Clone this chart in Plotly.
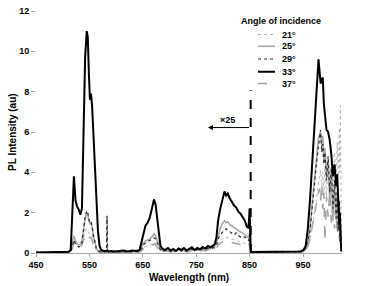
import plotly.graph_objects as go

# ---------------- data ----------------
wavelength_nm = [
    450, 460, 470, 480, 490, 500, 506, 511, 515,
    518, 521, 524, 527, 530, 533, 536, 539, 542, 545, 547, 549, 551, 553, 555, 557, 560, 563, 566, 569, 572,
    576, 580, 582, 583, 584, 586, 590, 598, 606, 614, 622, 630, 638, 644,
    648, 651, 655, 659, 663, 667, 671, 674, 677, 680, 683, 687,
    692, 697, 702, 707, 712, 717, 722, 727, 732, 737, 742, 747, 752, 757, 762, 767, 772, 777, 782, 785,
    788, 791, 795, 799, 803, 806, 809, 813, 817, 821, 825, 829, 833, 837, 841, 845, 848, 850, 852, 854,
    860, 870, 880, 890, 900, 910, 920, 930, 940, 946, 951, 955,
    959, 963, 967, 971, 975, 979, 981, 983, 985, 987, 989, 991, 994, 997, 1000, 1003, 1006, 1009, 1012, 1014,
    1016, 1018, 1019, 1020, 1021, 1022,
]

pl_21deg = [
    0.02, 0.02, 0.03, 0.02, 0.02, 0.03, 0.03, 0.04, 0.06,
    0.3, 0.6, 0.45, 0.3, 0.3, 0.35, 0.45, 0.8, 1.05, 1.2, 1.1, 0.95, 0.9, 0.92, 0.8, 0.55, 0.3, 0.15, 0.08, 0.05, 0.04,
    0.04, 0.05, 0.04, 0.05, 0.04, 0.05, 0.04, 0.06, 0.04, 0.06, 0.05, 0.06, 0.05, 0.06,
    0.15, 0.28, 0.33, 0.36, 0.38, 0.44, 0.5, 0.46, 0.33, 0.2, 0.1, 0.06,
    0.08, 0.12, 0.06, 0.1, 0.07, 0.12, 0.08, 0.14, 0.06, 0.1, 0.15, 0.08, 0.14, 0.1, 0.16, 0.12, 0.18, 0.15, 0.2, 0.22,
    0.3, 0.5, 0.62, 0.72, 0.8, 0.78, 0.75, 0.72, 0.68, 0.64, 0.62, 0.58, 0.55, 0.52, 0.5, 0.45, 0.42, 0.6, 0.05, 0.02,
    0.02, 0.03, 0.02, 0.03, 0.02, 0.03, 0.02, 0.03, 0.03, 0.04, 0.06, 0.12,
    0.3, 0.6, 1.2, 2.0, 2.8, 3.4, 3.8, 4.1, 3.2, 4.0, 3.0, 4.3, 2.8, 4.5, 3.2, 4.6, 3.0, 5.0, 3.6, 5.5,
    3.8, 6.2, 4.0, 7.3, 1.5, 0.0,
]

pl_25deg = [
    0.02, 0.02, 0.03, 0.02, 0.03, 0.03, 0.04, 0.05, 0.08,
    0.5, 0.85, 0.6, 0.45, 0.4, 0.45, 0.6, 1.2, 1.7, 2.0, 1.9, 1.6, 1.45, 1.5, 1.3, 0.9, 0.5, 0.25, 0.12, 0.08, 0.06,
    0.05, 0.06, 0.05, 0.06, 0.05, 0.06, 0.05, 0.07, 0.05, 0.08, 0.06, 0.07, 0.06, 0.08,
    0.3, 0.5, 0.6, 0.65, 0.7, 0.8, 0.95, 0.85, 0.6, 0.35, 0.18, 0.1,
    0.12, 0.18, 0.1, 0.15, 0.08, 0.17, 0.12, 0.2, 0.1, 0.15, 0.22, 0.12, 0.2, 0.15, 0.25, 0.18, 0.28, 0.22, 0.3, 0.35,
    0.55, 0.9, 1.2, 1.45, 1.6, 1.5, 1.55, 1.4, 1.35, 1.25, 1.2, 1.1, 1.05, 1.0, 0.9, 0.8, 0.75, 1.0, 0.08, 0.04,
    0.04, 0.03, 0.05, 0.04, 0.03, 0.04, 0.05, 0.04, 0.05, 0.06, 0.08, 0.2,
    0.5, 1.2, 2.4, 3.6, 4.8, 5.7, 5.9, 6.0, 5.3, 5.8, 4.6, 5.2, 3.8, 4.6, 2.6, 4.0, 1.6, 3.4, 1.8, 3.0,
    1.2, 2.5, 0.8, 1.5, 0.3, 0.05,
]

pl_29deg = [
    0.03, 0.02, 0.04, 0.03, 0.02, 0.04, 0.03, 0.05, 0.07,
    0.35, 0.65, 0.45, 0.35, 0.3, 0.35, 0.5, 1.1, 1.8, 2.1, 2.0, 1.7, 1.5, 1.55, 1.35, 0.95, 0.5, 0.22, 0.1, 0.06, 0.05,
    0.05, 0.06, 0.08, 1.85, 0.1, 0.06, 0.05, 0.06, 0.05, 0.07, 0.05, 0.06, 0.05, 0.07,
    0.22, 0.4, 0.5, 0.55, 0.6, 0.68, 0.75, 0.7, 0.5, 0.28, 0.15, 0.08,
    0.1, 0.15, 0.08, 0.14, 0.1, 0.16, 0.1, 0.18, 0.09, 0.14, 0.2, 0.1, 0.18, 0.14, 0.22, 0.16, 0.24, 0.2, 0.26, 0.3,
    0.4, 0.7, 0.9, 1.05, 1.15, 1.2, 1.1, 1.05, 0.95, 0.9, 1.0, 0.85, 0.8, 0.75, 0.8, 0.65, 0.6, 0.9, 0.06, 0.03,
    0.03, 0.04, 0.03, 0.04, 0.03, 0.05, 0.04, 0.05, 0.04, 0.06, 0.1, 0.25,
    0.6, 1.1, 2.2, 3.4, 4.4, 5.3, 5.8, 6.1, 5.0, 5.4, 4.4, 5.0, 3.6, 4.8, 3.0, 4.2, 2.2, 3.6, 1.6, 3.1,
    1.1, 2.6, 0.6, 2.0, 0.2, 0.0,
]

pl_33deg = [
    0.02, 0.03, 0.02, 0.04, 0.03, 0.05, 0.04, 0.06, 0.15,
    2.2, 3.8, 2.6, 2.3, 2.15, 1.9, 2.2, 6.5, 9.7, 11.0, 10.7, 8.9, 7.6, 7.9, 7.3, 6.2, 4.3, 2.5, 1.1, 0.35, 0.15,
    0.1, 0.08, 0.1, 0.12, 0.1, 0.08, 0.1, 0.07, 0.1, 0.12, 0.08, 0.12, 0.1, 0.15,
    0.6, 1.0, 1.35, 1.5, 1.75, 2.2, 2.65, 2.4, 1.7, 0.8, 0.35, 0.2,
    0.15, 0.25, 0.12, 0.2, 0.1, 0.22, 0.15, 0.25, 0.12, 0.2, 0.28, 0.15, 0.25, 0.18, 0.3, 0.22, 0.35, 0.28, 0.4, 0.45,
    0.8, 1.6, 2.2, 2.7, 3.05, 2.85, 2.95, 2.7, 2.5, 2.35, 2.25, 2.05, 1.95, 1.75, 1.6, 1.3, 1.25, 2.2, 0.15, 0.05,
    0.05, 0.04, 0.06, 0.05, 0.04, 0.05, 0.06, 0.05, 0.07, 0.08, 0.15, 0.35,
    1.2, 2.6, 4.5, 6.2, 8.0, 9.6, 9.0, 8.4, 8.6, 8.7, 7.4, 6.8, 6.1, 6.0, 5.6, 4.9, 3.8, 4.4, 3.3, 3.9,
    2.4, 1.4, 2.0, 0.8, 0.4, 0.1,
]

pl_37deg = [
    0.02, 0.02, 0.02, 0.03, 0.02, 0.03, 0.03, 0.04, 0.05,
    0.25, 0.5, 0.35, 0.28, 0.25, 0.3, 0.4, 0.65, 0.85, 0.95, 0.9, 0.8, 0.75, 0.75, 0.65, 0.45, 0.25, 0.12, 0.06, 0.04, 0.03,
    0.03, 0.04, 0.05, 1.8, 0.05, 0.04, 0.03, 0.04, 0.03, 0.05, 0.04, 0.05, 0.04, 0.05,
    0.12, 0.22, 0.28, 0.3, 0.33, 0.38, 0.45, 0.4, 0.3, 0.18, 0.08, 0.05,
    0.06, 0.1, 0.05, 0.09, 0.06, 0.1, 0.07, 0.12, 0.05, 0.09, 0.13, 0.07, 0.12, 0.09, 0.14, 0.1, 0.16, 0.13, 0.18, 0.2,
    0.25, 0.4, 0.5, 0.56, 0.6, 0.58, 0.57, 0.55, 0.52, 0.5, 0.48, 0.45, 0.43, 0.4, 0.38, 0.35, 0.33, 0.5, 0.04, 0.02,
    0.02, 0.03, 0.02, 0.03, 0.02, 0.03, 0.02, 0.03, 0.03, 0.04, 0.05, 0.1,
    0.3, 0.7, 1.3, 2.0, 2.6, 3.0, 3.2, 2.6, 3.4, 2.2, 3.0, 0.6, 2.8, 1.8, 3.0, 1.5, 2.6, 1.2, 2.2, 0.9,
    1.8, 0.7, 1.5, 0.5, 0.2, 0.0,
]

series_labels = ["21°", "25°", "29°", "33°", "37°"]
legend_title = "Angle of incidence"
x_ticks = [450, 550, 650, 750, 850, 950]
y_ticks = [0, 2, 4, 6, 8, 10, 12]
x_range = [450, 1023]
y_range = [0, 12]

# scale-change marker (x25 region boundary)
marker_wavelength = 852
marker_top = 8.07
arrow_head_wavelength = 772
arrow_level = 6.22
label_x25 = "×25"
label_x25_pos = (808, 6.6)

# ---------------- styling ----------------
FONT = "Liberation Sans, Arial, sans-serif"
styles = {
    "21°": dict(color="#b4b4b4", width=1.0, dash="dot"),
    "25°": dict(color="#a8a8a8", width=1.6, dash="solid"),
    "29°": dict(color="#2b2b2b", width=1.2, dash="dot"),
    "33°": dict(color="#000000", width=2.0, dash="solid"),
    "37°": dict(color="#a0a0a0", width=1.5, dash="dash"),
}
data_by_label = {
    "21°": pl_21deg, "25°": pl_25deg, "29°": pl_29deg, "33°": pl_33deg, "37°": pl_37deg,
}

fig = go.Figure()
for lab in ["37°", "21°", "25°", "29°", "33°"]:
    fig.add_trace(go.Scatter(
        x=wavelength_nm, y=data_by_label[lab], mode="lines", name=lab,
        line=styles[lab], showlegend=False, hoverinfo="skip",
    ))

# vertical dashed boundary line
fig.add_shape(type="line", xref="x", yref="y", x0=marker_wavelength, x1=marker_wavelength,
              y0=0, y1=marker_top, line=dict(color="black", width=2, dash="dash"))
# arrow
fig.add_annotation(x=arrow_head_wavelength, y=arrow_level, ax=marker_wavelength, ay=arrow_level,
                   xref="x", yref="y", axref="x", ayref="y", text="", showarrow=True,
                   arrowhead=2, arrowsize=1, arrowwidth=1, arrowcolor="black")
fig.add_annotation(x=label_x25_pos[0], y=label_x25_pos[1], xref="x", yref="y", text=label_x25,
                   showarrow=False, font=dict(family=FONT, size=9, color="black", weight="bold"))

# manual legend
def px_to_paper_x(px):
    return (px - 36) / 306.0

def py_to_paper_y(py):
    return (253 - py) / 247.0

fig.add_annotation(x=px_to_paper_x(239), y=py_to_paper_y(16), xref="paper", yref="paper",
                   text=legend_title, showarrow=False, xanchor="left", yanchor="middle",
                   font=dict(family=FONT, size=9, color="black", weight="bold"))
legend_rows_py = [30, 42, 55, 68, 80]
for lab, py in zip(series_labels, legend_rows_py):
    st = styles[lab]
    fig.add_shape(type="line", xref="paper", yref="paper",
                  x0=px_to_paper_x(258), x1=px_to_paper_x(275),
                  y0=py_to_paper_y(py), y1=py_to_paper_y(py),
                  line=dict(color=st["color"], width=st["width"], dash=st["dash"]))
    fig.add_annotation(x=px_to_paper_x(280), y=py_to_paper_y(py), xref="paper", yref="paper",
                       text=lab, showarrow=False, xanchor="left", yanchor="middle",
                       font=dict(family=FONT, size=9, color="black", weight="bold"))

# axis titles
fig.add_annotation(x=0.5, y=py_to_paper_y(278), xref="paper", yref="paper",
                   text="Wavelength (nm)", showarrow=False, xanchor="center", yanchor="middle",
                   font=dict(family=FONT, size=10, color="black", weight="bold"))
fig.add_annotation(x=px_to_paper_x(12.5), y=py_to_paper_y(130), xref="paper", yref="paper",
                   text="PL Intensity (au)", showarrow=False, textangle=-90,
                   xanchor="center", yanchor="middle",
                   font=dict(family=FONT, size=10, color="black", weight="bold"))

fig.update_layout(
    width=374, height=286,
    margin=dict(l=36, r=32, t=6, b=33),
    paper_bgcolor="white", plot_bgcolor="white",
    showlegend=False,
    font=dict(family=FONT, color="black"),
)
fig.update_xaxes(
    range=x_range, tickmode="array", tickvals=x_ticks, ticktext=[str(v) for v in x_ticks],
    showgrid=False, zeroline=False, showline=True, linecolor="#a6a6a6", linewidth=1,
    ticks="outside", ticklen=3, tickcolor="#a6a6a6",
    tickfont=dict(family=FONT, size=9, color="black", weight="bold"),
)
fig.update_yaxes(
    range=y_range, tickmode="array", tickvals=y_ticks, ticktext=[str(v) for v in y_ticks],
    showgrid=False, zeroline=False, showline=False,
    ticks="outside", ticklen=4, tickcolor="#a6a6a6",
    tickfont=dict(family=FONT, size=9, color="black", weight="bold"),
)

fig.write_html(
    "out.html",
    config={"displayModeBar": False},
    post_script="document.body.style.margin='0';document.body.style.overflow='hidden';",
)
